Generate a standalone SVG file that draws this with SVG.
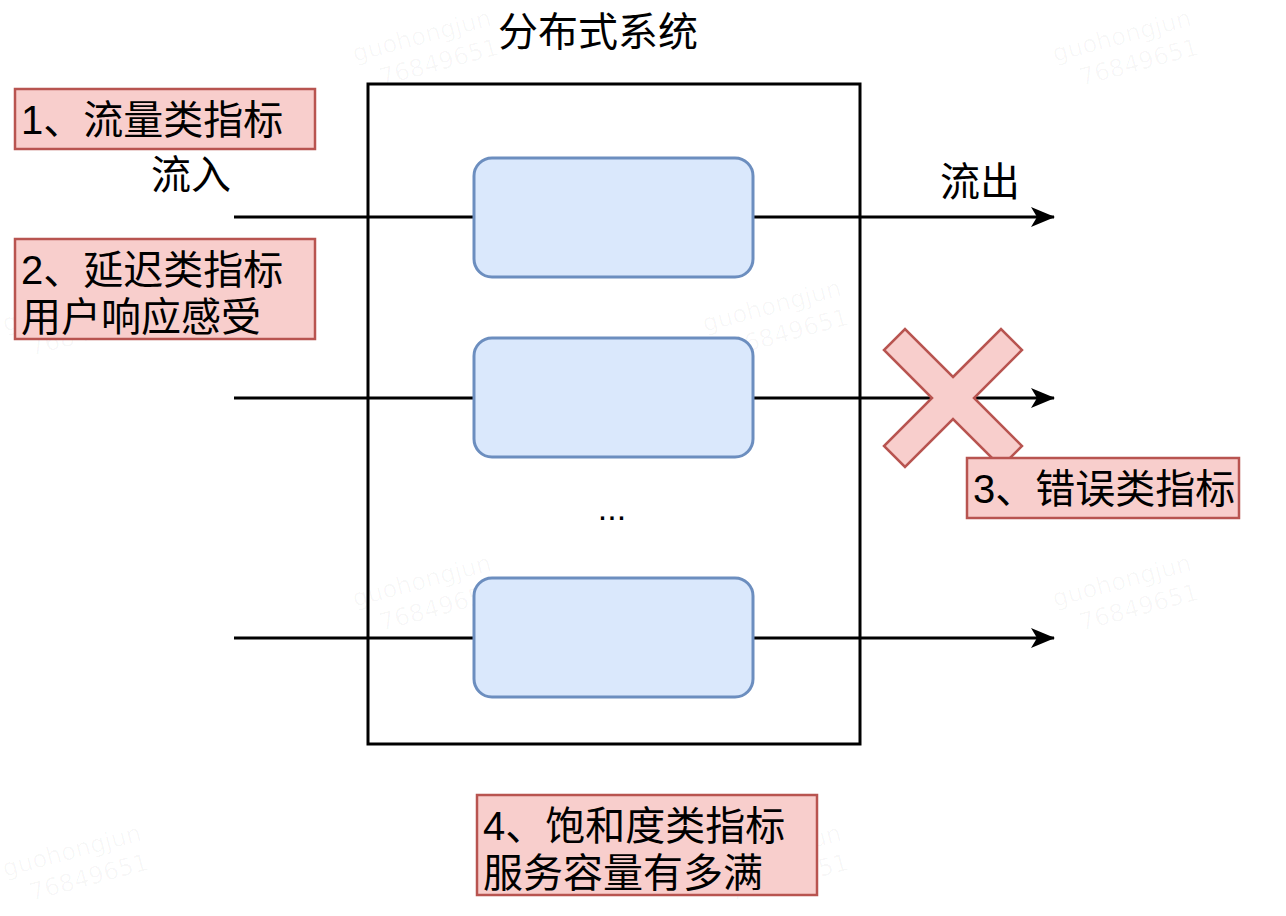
<svg xmlns="http://www.w3.org/2000/svg" width="1286" height="916" viewBox="0 0 1286 916">
<defs>
<style>
.t{font-family:"Liberation Sans","Noto Sans CJK SC",sans-serif;font-size:40px;fill:#000}
.red{fill:#f8cecc;stroke:#b85450;stroke-width:2.5}
.blue{fill:#dae8fc;stroke:#6c8ebf;stroke-width:3}
.ln{stroke:#000;stroke-width:3;fill:none}
.wm{font-family:"DejaVu Sans",sans-serif;font-size:24px;fill:#000;fill-opacity:0.03}
</style>
<marker id="arr" viewBox="0 0 24 20" refX="23" refY="10" markerWidth="24" markerHeight="20" markerUnits="userSpaceOnUse" orient="auto">
<path d="M0,0 L24,10 L0,20 L6,10 Z" fill="#000"/>
</marker>
</defs>
<rect width="1286" height="916" fill="#fff"/>
<g id="watermarks">
<g transform="translate(355,62) rotate(-15)"><text class="wm">guohongjun</text><text class="wm" x="20" y="30">76849651</text></g>
<g transform="translate(1055,62) rotate(-15)"><text class="wm">guohongjun</text><text class="wm" x="20" y="30">76849651</text></g>
<g transform="translate(5,332) rotate(-15)"><text class="wm">guohongjun</text><text class="wm" x="20" y="30">76849651</text></g>
<g transform="translate(705,332) rotate(-15)"><text class="wm">guohongjun</text><text class="wm" x="20" y="30">76849651</text></g>
<g transform="translate(355,607) rotate(-15)"><text class="wm">guohongjun</text><text class="wm" x="20" y="30">76849651</text></g>
<g transform="translate(1055,607) rotate(-15)"><text class="wm">guohongjun</text><text class="wm" x="20" y="30">76849651</text></g>
<g transform="translate(5,877) rotate(-15)"><text class="wm">guohongjun</text><text class="wm" x="20" y="30">76849651</text></g>
<g transform="translate(705,877) rotate(-15)"><text class="wm">guohongjun</text><text class="wm" x="20" y="30">76849651</text></g>
</g>
<g id="system">
<rect x="368" y="84" width="492" height="660" fill="none" stroke="#000" stroke-width="3"/>
<text class="t" x="598" y="46" text-anchor="middle">分布式系统</text>
</g>
<g id="connectors">
<line class="ln" x1="234" y1="217" x2="474" y2="217"/>
<line class="ln" x1="753" y1="217" x2="1054" y2="217" marker-end="url(#arr)"/>
<line class="ln" x1="234" y1="398" x2="474" y2="398"/>
<line class="ln" x1="753" y1="398" x2="1054" y2="398" marker-end="url(#arr)"/>
<line class="ln" x1="234" y1="638" x2="474" y2="638"/>
<line class="ln" x1="753" y1="638" x2="1054" y2="638" marker-end="url(#arr)"/>
</g>
<g id="node1"><rect class="blue" x="474" y="158" width="279" height="119" rx="18"/></g>
<g id="node2"><rect class="blue" x="474" y="338" width="279" height="119" rx="18"/></g>
<g id="node3"><rect class="blue" x="474" y="578" width="279" height="119" rx="18"/></g>
<g id="dots"><text class="t" x="612" y="520" text-anchor="middle" style="font-size:34px">...</text></g>
<g id="label-in"><text class="t" x="191" y="189" text-anchor="middle">流入</text></g>
<g id="label-out"><text class="t" x="980" y="196" text-anchor="middle">流出</text></g>
<g id="cross">
<polygon class="red" stroke-width="3" points="953,377 1001,329 1022,350 974,398 1022,446 1001,467 953,419 905,467 884,446 932,398 884,350 905,329"/>
</g>
<g id="metric1">
<rect class="red" x="15" y="89" width="300" height="60"/>
<text class="t" x="21" y="134">1、流量类指标</text>
</g>
<g id="metric2">
<rect class="red" x="15" y="239" width="300" height="100"/>
<text class="t" x="21" y="284">2、延迟类指标</text>
<text class="t" x="21" y="331">用户响应感受</text>
</g>
<g id="metric3">
<rect class="red" x="967" y="458" width="272" height="60"/>
<text class="t" x="973" y="503">3、错误类指标</text>
</g>
<g id="metric4">
<rect class="red" x="477" y="795" width="340" height="100"/>
<text class="t" x="483" y="840">4、饱和度类指标</text>
<text class="t" x="483" y="887">服务容量有多满</text>
</g>
</svg>
